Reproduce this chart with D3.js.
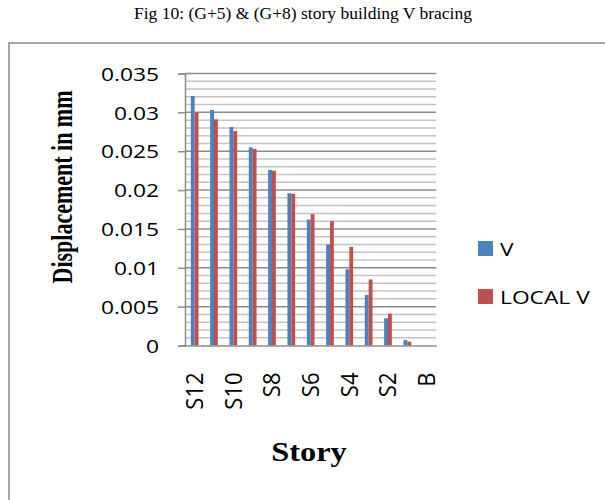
<!DOCTYPE html>
<html>
<head>
<meta charset="utf-8">
<script src="https://cdn.jsdelivr.net/npm/d3@7"></script>
<style>
  html, body { margin: 0; padding: 0; background: #fff; }
  svg { display: block; }
</style>
</head>
<body>
<svg id="chart" width="605" height="500"></svg>
<script>
// Storey labels, top storey first
const stories = ["S12","S11","S10","S9","S8","S7","S6","S5","S4","S3","S2","S1","B"];
// Displacement (mm) per storey
const vBracing = [0.0321, 0.0303, 0.0281, 0.0255, 0.0226, 0.0196, 0.0162, 0.0130, 0.0098, 0.0065, 0.0035, 0.0007, 0];
const localV   = [0.0300, 0.0291, 0.0276, 0.0253, 0.0225, 0.0195, 0.0169, 0.0160, 0.0127, 0.0085, 0.0041, 0.0005, 0];
const seriesNames = ["V", "LOCAL V"];
const seriesColors = ["#4F81BD", "#C0504D"];
const yTicks = [0, 0.005, 0.01, 0.015, 0.02, 0.025, 0.03, 0.035];
const xTickLabels = ["S12","S10","S8","S6","S4","S2","B"];

const svg = d3.select("#chart");
const sansFont = "'Open Sans', 'Liberation Sans', sans-serif";
const serifFont = "'Liberation Serif', 'Times New Roman', serif";
const stretch = 1.2;

// figure caption
svg.append("text")
  .attr("x", 303).attr("y", 19)
  .attr("text-anchor", "middle")
  .style("font-family", serifFont)
  .style("font-size", "17.5px")
  .text("Fig 10: (G+5) & (G+8) story building V bracing");

// chart frame
svg.append("rect")
  .attr("x", 9).attr("y", 43)
  .attr("width", 620).attr("height", 500)
  .attr("fill", "none")
  .attr("stroke", "#8a8a8a")
  .attr("stroke-width", 1.5);

const plot = { left: 185, right: 436.3, top: 73.5, bottom: 345.5 };

const x = d3.scaleBand().domain(stories).range([plot.left, plot.right]).paddingInner(0).paddingOuter(0);
const y = d3.scaleLinear().domain([0, 0.035]).range([plot.bottom, plot.top]);

// gap width 150% -> cluster occupies band / 2.5
const clusterW = x.bandwidth() / 2.5;
const xs = d3.scaleBand().domain(seriesNames).range([0, clusterW]);

// minor gridlines every 0.001
const minor = d3.range(1, 35).filter(i => i % 5 !== 0).map(i => i / 1000);
svg.append("g").selectAll("line").data(minor).join("line")
  .attr("x1", plot.left).attr("x2", plot.right)
  .attr("y1", d => y(d)).attr("y2", d => y(d))
  .attr("stroke", "#c4c4c4").attr("stroke-width", 1.5);

// major gridlines
svg.append("g").selectAll("line").data(yTicks.slice(1)).join("line")
  .attr("x1", plot.left).attr("x2", plot.right)
  .attr("y1", d => y(d)).attr("y2", d => y(d))
  .attr("stroke", "#8c8c8c").attr("stroke-width", 1.5);

// bars
const series = [vBracing, localV];
series.forEach((vals, si) => {
  svg.append("g").selectAll("rect").data(stories).join("rect")
    .attr("x", (d) => x(d) + (x.bandwidth() - clusterW) / 2 + xs(seriesNames[si]))
    .attr("width", xs.bandwidth())
    .attr("y", (d, i) => y(vals[i]))
    .attr("height", (d, i) => y(0) - y(vals[i]))
    .attr("fill", seriesColors[si]);
});

// y axis
const yAxis = svg.append("g")
  .attr("transform", `translate(${plot.left},0)`)
  .call(d3.axisLeft(y).tickValues(yTicks).tickSize(7));
yAxis.select(".domain").attr("stroke", "#8c8c8c").attr("stroke-width", 1.5);
yAxis.selectAll(".tick line").attr("stroke", "#8c8c8c").attr("stroke-width", 1.5);
yAxis.selectAll(".tick text").remove();
yAxis.selectAll(".tick").append("text")
  .attr("transform", `translate(-26,0) scale(${stretch},1)`)
  .attr("text-anchor", "end")
  .attr("dy", "0.35em")
  .attr("fill", "#000")
  .style("font-family", sansFont)
  .style("font-size", "19px")
  .text(d => +d.toFixed(3));

// x axis
const xAxis = svg.append("g")
  .attr("transform", `translate(0,${plot.bottom})`)
  .call(d3.axisBottom(x).tickSize(0).tickFormat(""));
xAxis.select(".domain").attr("stroke", "#8c8c8c").attr("stroke-width", 1.5);
xAxis.selectAll(".tick text").remove();
xAxis.selectAll(".tick")
  .filter(d => xTickLabels.includes(d))
  .append("text")
  .attr("transform", `translate(0,27) rotate(-90) scale(1.1,1.2)`)
  .attr("text-anchor", "end")
  .attr("dy", "0.35em")
  .attr("fill", "#000")
  .style("font-family", sansFont)
  .style("font-size", "20px")
  .text(d => d);

// axis titles
svg.append("text")
  .attr("transform", `translate(72,187) rotate(-90) scale(1,1.3)`)
  .attr("text-anchor", "middle")
  .style("font-family", serifFont)
  .style("font-weight", "bold")
  .style("font-size", "22px")
  .text("Displacement in mm");

svg.append("text")
  .attr("transform", `translate(309,461) scale(${stretch},1)`)
  .attr("text-anchor", "middle")
  .style("font-family", serifFont)
  .style("font-weight", "bold")
  .style("font-size", "27px")
  .text("Story");

// legend
const legend = svg.append("g").selectAll("g").data(seriesNames).join("g")
  .attr("transform", (d, i) => `translate(478,${241 + i * 48})`);
legend.append("rect")
  .attr("width", 15).attr("height", 15)
  .attr("fill", (d, i) => seriesColors[i]);
legend.append("text")
  .attr("transform", `translate(22,8) scale(${stretch},1)`)
  .attr("dy", "0.35em")
  .style("font-family", sansFont)
  .style("font-size", "19px")
  .text(d => d);
</script>
</body>
</html>
